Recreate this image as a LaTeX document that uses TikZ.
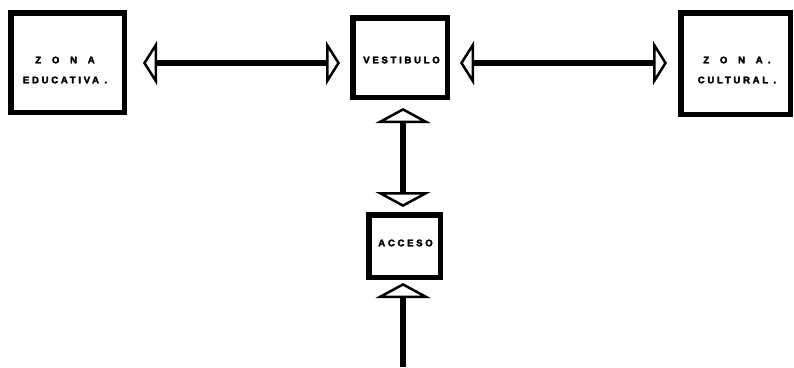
\documentclass[tikz,border=0pt]{standalone}
\usepackage{fontspec}
\setmainfont{Liberation Sans}
\newfontfamily\lblfont[LetterSpace=29,FakeBold=3.5]{Liberation Sans Bold}
\usetikzlibrary{arrows.meta}
\tikzset{
  htip/.tip={Triangle[open,length=14pt,width=44pt,line width=2.5pt]},
  vtip/.tip={Triangle[open,length=15pt,width=55pt,line width=2.5pt]}
}
\begin{document}
\begin{tikzpicture}[x=1pt,y=-1pt,
  box/.style={draw, line width=5.5pt, inner sep=0pt},
  lbl/.style={inner sep=0pt, align=center, font=\lblfont\fontsize{9.5}{20}\selectfont},
  conn/.style={line width=5.5pt}]
\useasboundingbox (0,0) rectangle (794,367);
\node[box, minimum width=113.5pt, minimum height=99.5pt] (ze) at (67.5,62.5) {};
\node[box, minimum width=94.5pt, minimum height=79.5pt] (vest) at (400,57.5) {};
\node[box, minimum width=109.5pt, minimum height=101.5pt] (zc) at (735.5,63.5) {};
\node[box, minimum width=71.5pt, minimum height=62.5pt] (acc) at (404.5,246) {};
\node[lbl] (zet) at (65,70) {Z \ O \ N \ A\\EDUCATIVA .};
\node[lbl] (vestt) at (401.5,60) {VESTIBULO};
\node[lbl] (zct) at (737,70) {Z \ O \ N \ A .\\CULTURAL .};
\node[lbl] (acct) at (405.5,243) {ACCESO};
\coordinate (bot) at (403,367);
\draw[conn, htip-htip, shorten <=16pt, shorten >=10pt] ([yshift=-0.5pt]ze.east) -- ([yshift=-0.5pt]ze.east -| vest.west);
\draw[conn, htip-htip, shorten <=10pt, shorten >=11pt] ([yshift=-0.5pt]ze.east -| vest.east) -- ([yshift=-0.5pt]ze.east -| zc.west);
\draw[conn, vtip-vtip, shorten <=8pt, shorten >=5pt] ([xshift=3pt]vest.south) -- ([xshift=3pt]vest.south |- acc.north);
\draw[conn, -vtip, shorten >=3pt] (bot) -- (bot |- acc.south);
\end{tikzpicture}
\end{document}
